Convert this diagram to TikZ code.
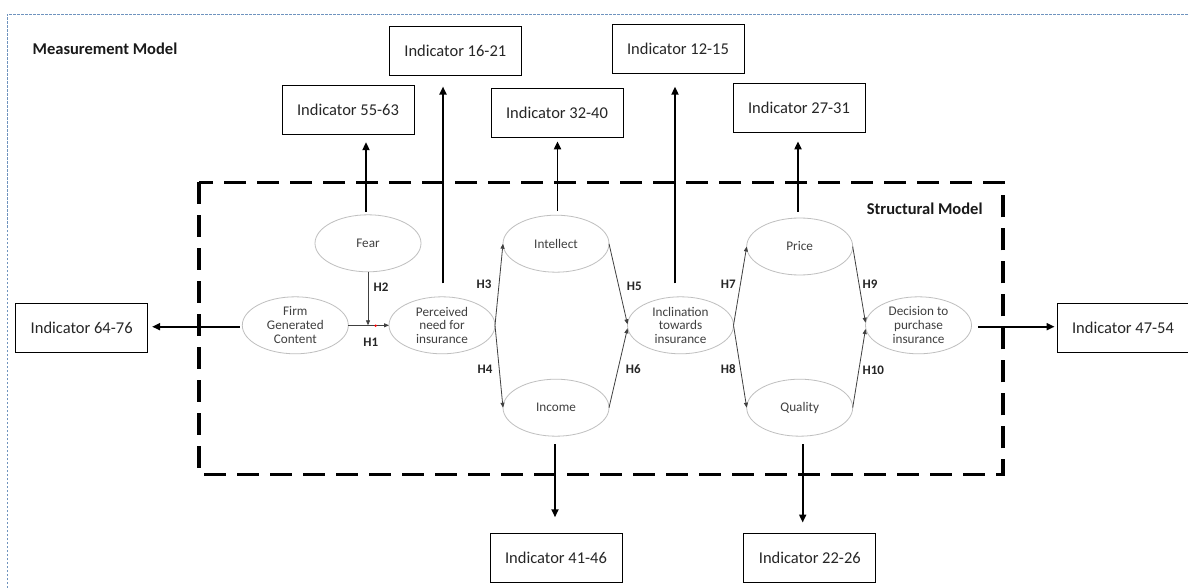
\documentclass[tikz,border=0pt]{standalone}
\usepackage{fontspec}
\setmainfont{Carlito}
\usetikzlibrary{arrows.meta,shapes.geometric}
\definecolor{ellgray}{HTML}{BFBFBF}
\definecolor{txtgray}{HTML}{404040}
\definecolor{arrgray}{HTML}{404040}
\definecolor{borderblue}{HTML}{6F93BE}
\begin{document}
\begin{tikzpicture}[x=1pt,y=-1pt,
 indbox/.style={draw=black, line width=0.9pt, minimum width=132pt, minimum height=49pt, inner sep=0pt, font=\fontsize{16.5}{19.8}\selectfont, text=black!85},
 lat/.style={draw=ellgray, line width=0.8pt, ellipse, inner sep=0pt, outer sep=0pt, minimum width=106pt, minimum height=57pt},
 lattext/.style={font=\fontsize{13.2}{13.8}\selectfont, text=txtgray, align=center, inner sep=0pt},
 hyp/.style={draw=arrgray, line width=0.8pt, -{Triangle[length=5pt,width=4pt]}},
 hlab/.style={font=\fontsize{13}{15}\selectfont\bfseries, text=black!85, inner sep=0pt},
 ind/.style={draw=black, line width=1.8pt, -{Triangle[length=8pt,width=7pt]}},
 title/.style={font=\fontsize{16.5}{19}\selectfont\bfseries, text=black!90, inner sep=0pt}
]
\fill[white] (0,0) rectangle (1188,588);
\useasboundingbox (0,0) rectangle (1188,588);

% outer measurement-model border
\draw[borderblue, line width=0.8pt, dash pattern=on 2.5pt off 1.5pt] (7.3,600) -- (7.3,14) -- (1195,14);
% structural model box
\draw[line width=3.5pt, dash pattern=on 22pt off 11pt] (199,182.3) rectangle (1003,474.3);

\node[title] (mm) at (105,49) {Measurement Model};
\node[title] (sm) at (924.7,208.3) {Structural Model};

% latent variables
\node[lat] (fear) at (368,243.3) {};
\node[lat] (firm) at (295.3,325.3) {};
\node[lat] (perc) at (442,325.3) {};
\node[lat] (intel) at (556,243.7) {};
\node[lat] (income) at (556,407.7) {};
\node[lat] (incl) at (680.5,325.3) {};
\node[lat] (price) at (799.7,246.5) {};
\node[lat] (quality) at (799.7,407.7) {};
\node[lat] (dec) at (918.5,325.3) {};

\node[lattext] (fearT) at (fear) {Fear};
\node[lattext] (firmT) at (firm) {Firm\\Generated\\Content};
\node[lattext] (percT) at (perc) {Perceived\\need for\\insurance};
\node[lattext] (intelT) at (intel) {Intellect};
\node[lattext] (incomeT) at (income) {Income};
\node[lattext] (inclT) at (incl) {Inclination\\towards\\insurance};
\node[lattext] (priceT) at (price) {Price};
\node[lattext] (qualityT) at (quality) {Quality};
\node[lattext] (decT) at (dec) {Decision to\\purchase\\insurance};

% indicator boxes
\node[indbox] (b5563) at (348,110.2) {Indicator 55-63};
\node[indbox] (b1621) at (455.3,51.3) {Indicator 16-21};
\node[indbox] (b3240) at (557,113) {Indicator 32-40};
\node[indbox] (b1215) at (678,49) {Indicator 12-15};
\node[indbox] (b2731) at (799,108) {Indicator 27-31};
\node[indbox] (b6476) at (81.7,327.7) {Indicator 64-76};
\node[indbox] (b4754) at (1123,327.7) {Indicator 47-54};
\node[indbox] (b4146) at (556,557.5) {Indicator 41-46};
\node[indbox] (b2226) at (809.8,557.5) {Indicator 22-26};

% hypotheses
\draw[hyp] (firm.east) -- (perc.west);
\coordinate (j) at (fear.south |- firm.east);
\draw[hyp] (fear.south) -- (j);
\fill[red] (375.7,325.7) circle (1.3pt);
\draw[hyp] (perc.east) -- (intel.west);
\draw[hyp] (perc.east) -- (income.west);
\draw[hyp] (intel.east) -- ([yshift=1pt]incl.west);
\draw[hyp] (income.east) -- ([yshift=-3pt]incl.west);
\draw[hyp] (incl.east) -- (price.west);
\draw[hyp] (incl.east) -- (quality.west);
\draw[hyp] (price.east) -- ([yshift=2.6pt]dec.west);
\draw[hyp] (quality.east) -- ([yshift=-3.7pt]dec.west);

\node[hlab] (h1) at (370.7,342.3) {H1};
\node[hlab] (h2) at (381,287.7) {H2};
\node[hlab] (h3) at (484,284) {H3};
\node[hlab] (h4) at (485,369) {H4};
\node[hlab] (h5) at (634.3,286) {H5};
\node[hlab] (h6) at (633.3,369) {H6};
\node[hlab] (h7) at (728.3,284) {H7};
\node[hlab] (h8) at (728.3,369) {H8};
\node[hlab] (h9) at (870,284) {H9};
\node[hlab] (h10) at (873.3,370) {H10};

% measurement arrows
\coordinate (f0) at ([xshift=-2pt]fear.north);
\draw[ind, shorten <=3.3pt, shorten >=7pt] (f0) -- (f0 |- b5563.south);
\coordinate (p0) at ([xshift=1pt]perc.north);
\draw[ind, shorten <=13.4pt, shorten >=10.3pt] (p0) -- (p0 |- b1621.south);
\coordinate (i0) at ([xshift=1.5pt]intel.north);
\draw[ind, shorten <=4pt, shorten >=3.4pt] (i0) -- (i0 |- b3240.south);
\coordinate (n0) at ([xshift=-5.5pt]incl.north);
\draw[ind, shorten <=13.4pt, shorten >=12.7pt] (n0) -- (n0 |- b1215.south);
\coordinate (r0) at ([xshift=-1.7pt]price.north);
\draw[ind, shorten <=6.3pt, shorten >=8.4pt] (r0) -- (r0 |- b2731.south);
\coordinate (g0) at ([yshift=-1.4pt]firm.west);
\draw[ind, shorten <=2.7pt, shorten >=4pt] (g0) -- (g0 -| b6476.east);
\coordinate (d0) at ([yshift=-1.4pt]dec.east);
\draw[ind, shorten <=6.7pt, shorten >=2pt] (d0) -- (d0 -| b4754.west);
\coordinate (m0) at ([xshift=-1pt]income.south);
\draw[ind, shorten <=8pt, shorten >=15.3pt] (m0) -- (m0 |- b4146.north);
\coordinate (q0) at ([xshift=3pt]quality.south);
\draw[ind, shorten <=8pt, shorten >=10pt] (q0) -- (q0 |- b2226.north);
\end{tikzpicture}
\end{document}
